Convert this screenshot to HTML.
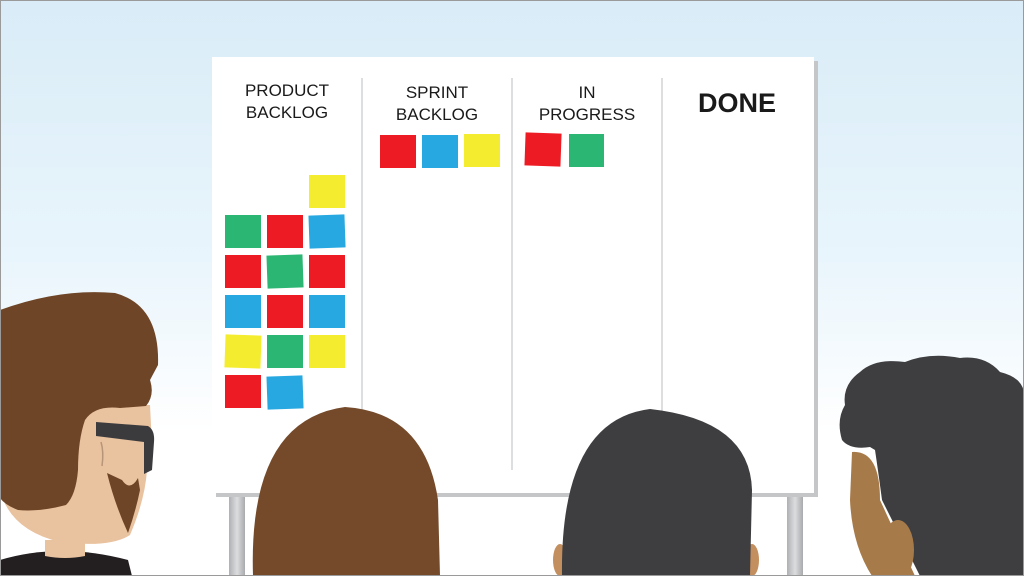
<!DOCTYPE html>
<html><head><style>html,body{margin:0;padding:0;background:#fff}svg{display:block}</style></head><body>
<svg width="1024" height="576" viewBox="0 0 1024 576" xmlns="http://www.w3.org/2000/svg">
<defs>
<linearGradient id="sky" x1="0" y1="0" x2="0" y2="1">
<stop offset="0" stop-color="#d9ecf7"/><stop offset="0.45" stop-color="#e9f5fc"/><stop offset="0.75" stop-color="#ffffff"/>
</linearGradient>
<linearGradient id="leg" x1="0" y1="0" x2="1" y2="0">
<stop offset="0" stop-color="#aeb0b3"/><stop offset="0.5" stop-color="#dcdddf"/><stop offset="1" stop-color="#a8aaad"/>
</linearGradient>
</defs>
<rect width="1024" height="576" fill="url(#sky)"/>
<rect x="229" y="492" width="16" height="84" fill="url(#leg)"/>
<rect x="787" y="492" width="16" height="84" fill="url(#leg)"/>
<rect x="216" y="61" width="602" height="436" fill="#c4c6c8"/>
<rect x="212" y="57" width="602" height="436" fill="#ffffff"/>
<g stroke="#d2d3d5" stroke-width="1.5">
<line x1="362" y1="78" x2="362" y2="470"/><line x1="512" y1="78" x2="512" y2="470"/><line x1="662" y1="78" x2="662" y2="470"/>
</g>
<g font-family="Liberation Sans, sans-serif" fill="#1a1a1a" text-anchor="middle" font-size="17">
<text x="287" y="96">PRODUCT</text><text x="287" y="118">BACKLOG</text>
<text x="437" y="98">SPRINT</text><text x="437" y="120">BACKLOG</text>
<text x="587" y="98">IN</text><text x="587" y="120">PROGRESS</text>
<text x="737" y="112" font-size="27" font-weight="bold">DONE</text>
</g>
<g>
<rect x="380" y="135" width="36" height="33" fill="#ed1c24"/>
<rect x="422" y="135" width="36" height="33" fill="#27a8e0"/>
<rect x="464" y="134" width="36" height="33" fill="#f4ec2e"/>
<rect x="525" y="133" width="36" height="33" fill="#ed1c24" transform="rotate(2 543 150)"/>
<rect x="569" y="134" width="35" height="33" fill="#2bb673"/>
<rect x="309" y="175" width="36" height="33" fill="#f4ec2e"/>
<rect x="225" y="215" width="36" height="33" fill="#2bb673"/>
<rect x="267" y="215" width="36" height="33" fill="#ed1c24"/>
<rect x="309" y="215" width="36" height="33" fill="#27a8e0" transform="rotate(-2 327 231)"/>
<rect x="225" y="255" width="36" height="33" fill="#ed1c24"/>
<rect x="267" y="255" width="36" height="33" fill="#2bb673" transform="rotate(-2 285 271)"/>
<rect x="309" y="255" width="36" height="33" fill="#ed1c24"/>
<rect x="225" y="295" width="36" height="33" fill="#27a8e0"/>
<rect x="267" y="295" width="36" height="33" fill="#ed1c24"/>
<rect x="309" y="295" width="36" height="33" fill="#27a8e0"/>
<rect x="225" y="335" width="36" height="33" fill="#f4ec2e" transform="rotate(2 243 351)"/>
<rect x="267" y="335" width="36" height="33" fill="#2bb673"/>
<rect x="309" y="335" width="36" height="33" fill="#f4ec2e"/>
<rect x="225" y="375" width="36" height="33" fill="#ed1c24"/>
<rect x="267" y="376" width="36" height="33" fill="#27a8e0" transform="rotate(-2 285 392)"/>
</g>
<!-- person 1 -->
<path d="M0 560 Q60 542 128 560 L132 576 L0 576 Z" fill="#231f20"/>
<path d="M45 540 L45 556 Q65 560 85 556 L85 540 Z" fill="#e9c29f"/>
<path d="M0 490 Q10 530 60 542 Q110 548 130 535 Q145 500 147 470 L152 445 L150 405 L100 405 L80 420 L60 480 Z" fill="#e9c29f"/>
<path d="M0 310 Q60 288 115 293 Q160 305 158 365 L150 380 Q155 395 146 406 L120 408 Q95 405 85 420 Q78 440 78 470 Q76 495 66 505 Q40 512 18 510 Q5 505 0 498 Z" fill="#6e4526"/>
<path d="M107 473 Q115 505 128 533 Q136 510 140 490 L138 478 Q130 492 122 480 Z" fill="#6e4526"/>
<ellipse cx="96" cy="455" rx="15" ry="26" fill="#e9c29f"/>
<path d="M101 442 Q104 452 102 466" stroke="#b89479" stroke-width="1.5" fill="none"/>
<path d="M96 422 L148 426 Q155 430 154 442 L152 470 L144 474 L144 442 L96 436 Z" fill="#3b3b3d"/>
<!-- person 2 -->
<path d="M253 576 Q248 420 345 407 Q425 412 438 500 L440 576 Z" fill="#744a2a"/>
<!-- person 3 -->
<ellipse cx="560" cy="560" rx="7" ry="16" fill="#c48f5f"/>
<ellipse cx="752" cy="560" rx="7" ry="16" fill="#c48f5f"/>
<path d="M562 576 Q560 420 650 409 Q750 420 752 490 L750 576 Z" fill="#3e3d40"/>
<!-- person 4 -->
<path d="M852 452 Q880 450 880 500 L915 576 L872 576 Q852 545 850 500 Z" fill="#a77a4a"/>
<path d="M860 372 Q875 358 905 362 Q930 352 960 358 Q985 355 1000 372 Q1024 378 1024 395 L1024 576 L920 576 L882 500 Q878 470 875 450 L870 447 Q850 450 842 440 Q836 420 845 405 Q842 385 860 372 Z" fill="#3e3d40"/>
<ellipse cx="898" cy="550" rx="16" ry="30" fill="#a77a4a"/>
<rect x="0.5" y="0.5" width="1023" height="575" fill="none" stroke="#9a9a9a"/>
</svg>
</body></html>
